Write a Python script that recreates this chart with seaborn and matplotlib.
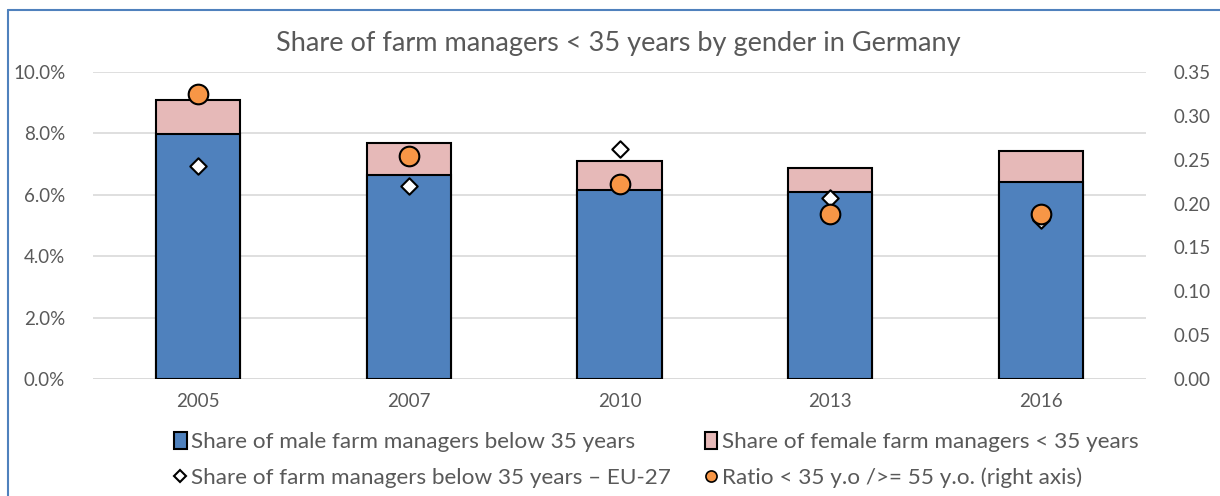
import pandas as pd
import matplotlib.pyplot as plt
import seaborn as sns
from matplotlib.lines import Line2D
from matplotlib.patches import Patch

# values
years = ['2005', '2007', '2010', '2013', '2016']
male_share = [0.0798, 0.0665, 0.0617, 0.0610, 0.0641]
female_share = [0.0111, 0.0105, 0.0094, 0.0077, 0.0103]
eu27_share = [0.0694, 0.0628, 0.0750, 0.0590, 0.0518]
ratio = [0.325, 0.254, 0.222, 0.188, 0.188]

df = pd.DataFrame({'year': years, 'male': male_share, 'female': female_share,
                   'eu27': eu27_share, 'ratio': ratio})
df['total'] = df['male'] + df['female']

blue = '#4f81bd'
pink = '#e6b9b8'
orange = '#f79646'
grey = '#595959'

sns.set_style('white')
plt.rcParams['font.family'] = ['Lato', 'DejaVu Sans']

fig = plt.figure(figsize=(12.2, 4.96), dpi=100)
ax = fig.add_axes([93 / 1220, 117 / 496, 1053 / 1220, 307 / 496])

# stacked bars: total (pink) first, then male (blue) over it
sns.barplot(data=df, x='year', y='total', color=pink, width=0.4,
            edgecolor='black', linewidth=1.5, saturation=1, ax=ax, zorder=2)
sns.barplot(data=df, x='year', y='male', color=blue, width=0.4,
            edgecolor='black', linewidth=1.5, saturation=1, ax=ax, zorder=3)
sns.scatterplot(data=df, x='year', y='eu27', marker='D', s=70, color='white',
                edgecolor='black', linewidth=1.5, ax=ax, zorder=4)

ax.set_ylim(0, 0.10)
ax.set_xlim(-0.5, 4.5)
ax.set_yticks([0, 0.02, 0.04, 0.06, 0.08, 0.10])
ax.set_yticklabels([f'{v * 100:.1f}%' for v in ax.get_yticks()])
ax.yaxis.grid(True, color='#d9d9d9', linewidth=1.2, zorder=0)
ax.set_axisbelow(True)
ax.set_xlabel('')
ax.set_ylabel('')
for s in ax.spines.values():
    s.set_visible(False)
ax.axhline(0, color='#d9d9d9', linewidth=1.2, zorder=1)
ax.tick_params(axis='both', length=0, colors=grey, labelsize=13.5)
ax.tick_params(axis='x', pad=10)
ax.tick_params(axis='y', pad=20)

ax2 = ax.twinx()
sns.scatterplot(data=df, x='year', y='ratio', marker='o', s=200, color=orange,
                edgecolor='black', linewidth=1.5, ax=ax2, zorder=5)
ax2.set_ylim(0, 0.35)
ax2.set_yticks([0, 0.05, 0.10, 0.15, 0.20, 0.25, 0.30, 0.35])
ax2.set_yticklabels([f'{v:.2f}' for v in ax2.get_yticks()])
ax2.set_ylabel('')
for s in ax2.spines.values():
    s.set_visible(False)
ax2.tick_params(axis='y', length=0, colors=grey, labelsize=13.5, pad=20)

fig.text(0.507, 0.912, 'Share of farm managers < 35 years by gender in Germany',
         ha='center', va='center', fontsize=19.5, color=grey)

handles = [
    Patch(facecolor=blue, edgecolor='black', linewidth=1.5),
    Line2D([], [], marker='D', linestyle='', markersize=6, markerfacecolor='white',
           markeredgecolor='black', markeredgewidth=1.5),
    Patch(facecolor=pink, edgecolor='black', linewidth=1.5),
    Line2D([], [], marker='o', linestyle='', markersize=8, markerfacecolor=orange,
           markeredgecolor='black', markeredgewidth=1.2),
]
labels = ['Share of male farm managers below 35 years',
          'Share of farm managers below 35 years \u2013 EU-27',
          'Share of female farm managers < 35 years',
          'Ratio < 35 y.o />= 55 y.o. (right axis)']
leg = fig.legend(handles, labels, ncol=2, loc='upper left',
                 bbox_to_anchor=(163 / 1220, 1 - 421 / 496), frameon=False,
                 fontsize=16.2, handlelength=0.55, handleheight=0.75, handletextpad=0.2,
                 columnspacing=1.5, labelspacing=0.68, borderpad=0)
for t in leg.get_texts():
    t.set_color(grey)

# chart border (cropped at right/bottom)
fig.add_artist(Line2D([8 / 1220, 8 / 1220], [0, 1 - 10 / 496],
                      color=blue, linewidth=1.5, transform=fig.transFigure))
fig.add_artist(Line2D([8 / 1220, 1], [1 - 10 / 496, 1 - 10 / 496],
                      color=blue, linewidth=1.5, transform=fig.transFigure))

fig.savefig('out.png', dpi=100)
